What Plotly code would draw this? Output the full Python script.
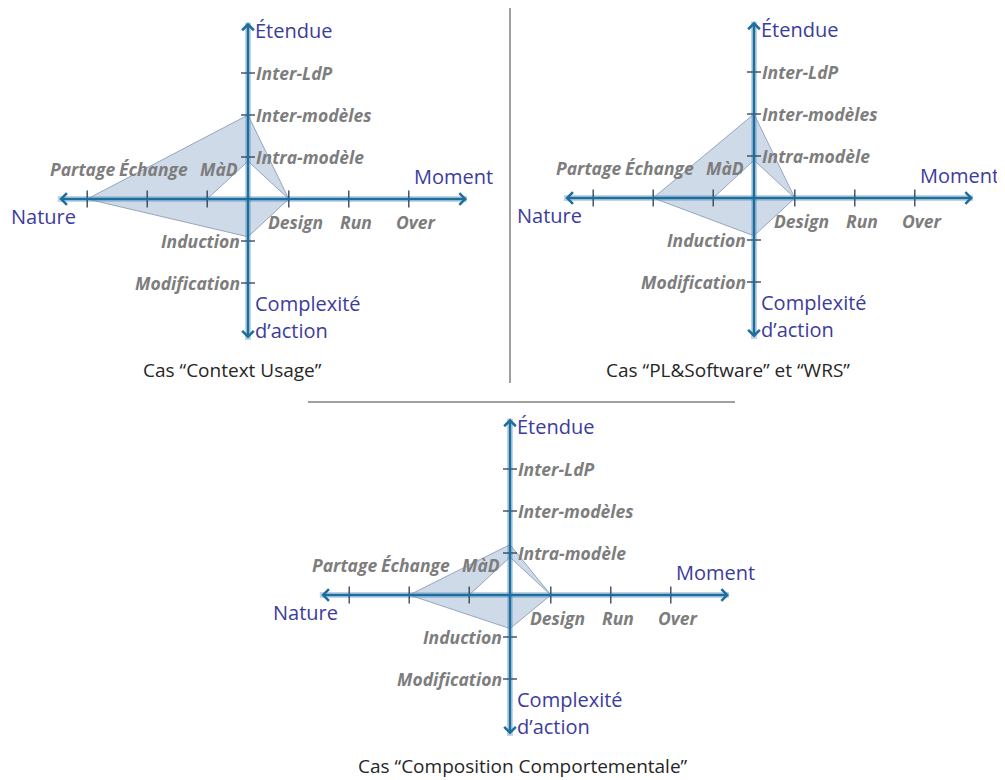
import plotly.graph_objects as go

# niveaux de chaque axe, du centre vers l'extérieur
nature_levels = ["MàD", "Échange", "Partage"]
moment_levels = ["Design", "Run", "Over"]
etendue_levels = ["Intra-modèle", "Inter-modèles", "Inter-LdP"]
complexite_levels = ["Induction", "Modification"]

case_titles = ["Cas “Context Usage”",
               "Cas “PL&Software” et “WRS”",
               "Cas “Composition Comportementale”"]

# valeurs (en niveaux) : nature, étendue, moment, complexité
context_max = [3, 2, 1, 0.9]
context_min = [1, 0.9, 1, 0]
plsoft_max = [2, 2, 1, 0.9]
plsoft_min = [1, 0.9, 1, 0]
compo_max = [2, 1.2, 1, 0.8]
compo_min = [1, 0.9, 1, 0]

cases_max = [context_max, plsoft_max, compo_max]
cases_min = [context_min, plsoft_min, compo_min]

# --- mise en page (coordonnées en pixels de la page, le body a 8px de marge) ---
PAGE_W, PAGE_H, OFF = 1005, 780, 8
W, H = PAGE_W - OFF, PAGE_H - OFF
PX_X, PX_Y = 60, 42          # pixels par niveau
H_LEFT, H_RIGHT = -3.17, 3.65
V_BOT, V_TOP = -3.36, 4.2

panels = [
    dict(box=(0, 0, 500, 390), center=(248, 199), caption=(232, 370)),
    dict(box=(500, 0, 1005, 390), center=(754, 198), caption=(728, 370)),
    dict(box=(250, 390, 750, 780), center=(510, 595), caption=(523, 766)),
]
nature_shift = [12, 6, -5]

AXIS_COLOR = "#1f6d9b"
HALO_COLOR = "rgba(90,150,200,0.4)"
TICK_COLOR = "#2b3d55"
TITLE_COLOR = "#3c3c9c"
LABEL_COLOR = "#7d7d7d"
FONT = "Open Sans"


def hpos(level):
    # échelle horizontale : le premier niveau est plus proche du centre
    return level - 0.32 if level > 0 else 0


def px(x):
    return (x - OFF) / W


def py(y):
    return 1 - (y - OFF) / H


fig = go.Figure()
annotations = []
layout_axes = {}

for i, p in enumerate(panels):
    sfx = "" if i == 0 else str(i + 1)
    xa, ya = "x" + sfx, "y" + sfx
    x0, y0, x1, y1 = p["box"]
    x0, y0 = max(x0, OFF), max(y0, OFF)
    cx, cy = p["center"]
    layout_axes["xaxis" + sfx] = dict(
        domain=[px(x0), px(x1)], range=[(x0 - cx) / PX_X, (x1 - cx) / PX_X],
        visible=False, anchor=ya, fixedrange=True)
    layout_axes["yaxis" + sfx] = dict(
        domain=[py(y1), py(y0)], range=[(cy - y1) / PX_Y, (cy - y0) / PX_Y],
        visible=False, anchor=xa, fixedrange=True)

    mx, mn = cases_max[i], cases_min[i]
    n_out, e_out, m_out, c_out = (-hpos(mx[0]), 0), (0, mx[1]), (hpos(mx[2]), 0), (0, -mx[3])
    n_in, e_in, m_in, c_in = (-hpos(mn[0]), 0), (0, mn[1]), (hpos(mn[2]), 0), (0, -mn[3])
    path = [n_out, e_out, m_out, m_in, e_in, n_in, c_in, m_in, m_out, c_out, n_out]
    fig.add_trace(go.Scatter(
        x=[pt[0] for pt in path], y=[pt[1] for pt in path], xaxis=xa, yaxis=ya,
        mode="lines", fill="toself", fillcolor="#cfdae8",
        line=dict(color="#96a6bd", width=1), hoverinfo="skip"))

    # halo des axes
    fig.add_trace(go.Scatter(x=[H_LEFT, H_RIGHT], y=[0, 0], xaxis=xa, yaxis=ya, mode="lines",
                             line=dict(color=HALO_COLOR, width=6), hoverinfo="skip"))
    fig.add_trace(go.Scatter(x=[0, 0], y=[V_BOT, V_TOP], xaxis=xa, yaxis=ya, mode="lines",
                             line=dict(color=HALO_COLOR, width=6), hoverinfo="skip"))

    # graduations
    hx = [-hpos(k + 1) for k in range(len(nature_levels))] + \
         [hpos(k + 1) for k in range(len(moment_levels))]
    fig.add_trace(go.Scatter(x=hx, y=[0] * len(hx), xaxis=xa, yaxis=ya, mode="markers",
                             marker=dict(symbol="line-ns", size=12,
                                         line=dict(color=TICK_COLOR, width=1.3)),
                             hoverinfo="skip"))
    vy = [k + 1 for k in range(len(etendue_levels))] + \
         [-(k + 1) for k in range(len(complexite_levels))]
    fig.add_trace(go.Scatter(x=[0] * len(vy), y=vy, xaxis=xa, yaxis=ya, mode="markers",
                             marker=dict(symbol="line-ew", size=10,
                                         line=dict(color=TICK_COLOR, width=1.3)),
                             hoverinfo="skip"))

    # axes fléchés
    annotations.append(dict(x=H_RIGHT, y=0, ax=H_LEFT, ay=0, xref=xa, yref=ya, axref=xa, ayref=ya,
                            text="", showarrow=True, arrowhead=4, arrowside="end+start",
                            arrowwidth=2.5, arrowsize=0.9, arrowcolor=AXIS_COLOR))
    annotations.append(dict(x=0, y=V_TOP, ax=0, ay=V_BOT, xref=xa, yref=ya, axref=xa, ayref=ya,
                            text="", showarrow=True, arrowhead=4, arrowside="end+start",
                            arrowwidth=2.5, arrowsize=0.9, arrowcolor=AXIS_COLOR))

    lab_font = dict(family=FONT, size=17.5, color=LABEL_COLOR, style="italic", weight="bold")
    for k, name in enumerate(etendue_levels):
        annotations.append(dict(x=0, y=k + 1, xref=xa, yref=ya, text=name, showarrow=False,
                                xanchor="left", yanchor="middle", xshift=6, font=lab_font))
    for k, name in enumerate(complexite_levels):
        annotations.append(dict(x=0, y=-(k + 1), xref=xa, yref=ya, text=name, showarrow=False,
                                xanchor="right", yanchor="middle", xshift=-6, font=lab_font))
    for k, name in enumerate(moment_levels):
        annotations.append(dict(x=hpos(k + 1), y=0, xref=xa, yref=ya, text=name, showarrow=False,
                                xanchor="center", yanchor="middle", xshift=7, yshift=-23,
                                font=lab_font))
    for k, name in enumerate(nature_levels):
        annotations.append(dict(x=-hpos(k + 1), y=0, xref=xa, yref=ya, text=name, showarrow=False,
                                xanchor="center", yanchor="middle", xshift=nature_shift[k],
                                yshift=30, font=lab_font))

    # titres des axes
    t_font = dict(family=FONT, size=20, color=TITLE_COLOR)
    annotations.append(dict(x=0, y=V_TOP, xref=xa, yref=ya, text="Étendue", showarrow=False,
                            xanchor="left", yanchor="middle", xshift=5, yshift=-8, font=t_font))
    annotations.append(dict(x=H_RIGHT, y=0, xref=xa, yref=ya, text="Moment", showarrow=False,
                            xanchor="right", yanchor="middle", xshift=28, yshift=23, font=t_font))
    annotations.append(dict(x=H_LEFT, y=0, xref=xa, yref=ya, text="Nature", showarrow=False,
                            xanchor="left", yanchor="middle", xshift=-49, yshift=-17, font=t_font))
    annotations.append(dict(x=0, y=V_BOT, xref=xa, yref=ya, text="Complexité", showarrow=False,
                            xanchor="left", yanchor="middle", xshift=5, yshift=37, font=t_font))
    annotations.append(dict(x=0, y=V_BOT, xref=xa, yref=ya, text="d’action", showarrow=False,
                            xanchor="left", yanchor="middle", xshift=5, yshift=10, font=t_font))

    # légende du cas
    capx, capy = p["caption"]
    annotations.append(dict(x=px(capx), y=py(capy), xref="paper", yref="paper",
                            text=case_titles[i], showarrow=False, xanchor="center",
                            yanchor="middle", font=dict(family=FONT, size=19, color="#262626")))

shapes = [
    dict(type="line", xref="paper", yref="paper", x0=px(510), x1=px(510),
         y0=py(8), y1=py(383), line=dict(color="#808080", width=1.5)),
    dict(type="line", xref="paper", yref="paper", x0=px(308), x1=px(735),
         y0=py(402), y1=py(402), line=dict(color="#808080", width=1.5)),
]

fig.update_layout(
    width=W, height=H, margin=dict(l=0, r=0, t=0, b=0),
    paper_bgcolor="white", plot_bgcolor="rgba(0,0,0,0)",
    showlegend=False, hovermode=False,
    annotations=annotations, shapes=shapes, **layout_axes)

fig.write_html("out.html")
